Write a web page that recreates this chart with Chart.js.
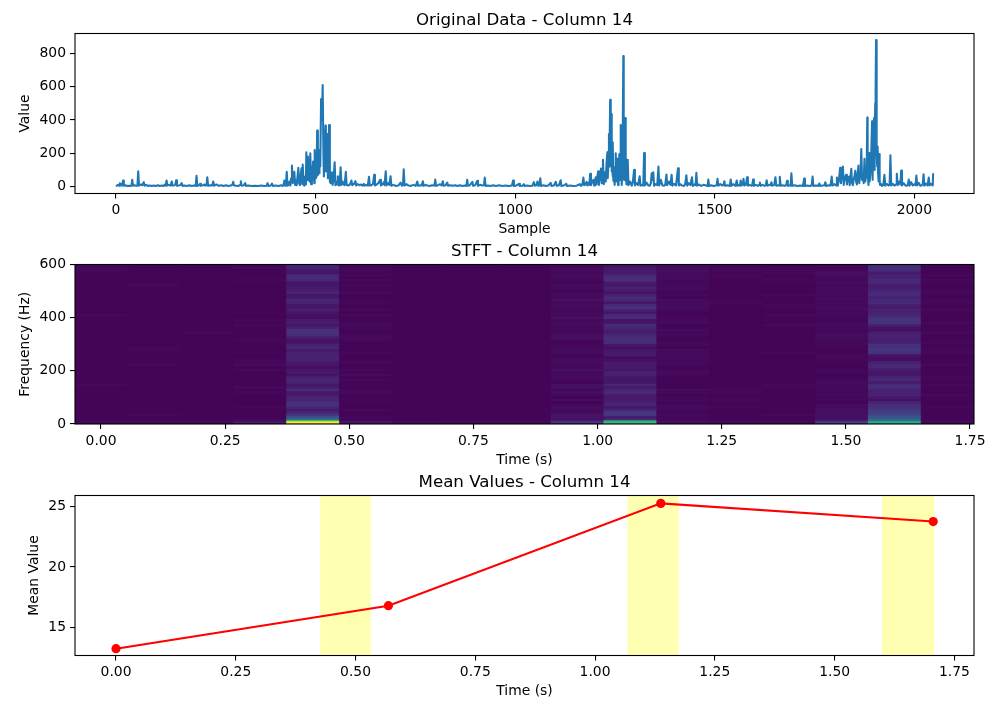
<!DOCTYPE html>
<html lang="en">
<head>
    <meta charset="UTF-8">
    <title>Column 14</title>
    <script src="https://cdn.jsdelivr.net/npm/chart.js"></script>
    <style>
        body { margin: 0; background: #fff; }
        canvas { position: absolute; left: 0; }
    </style>
</head>
<body>
    <canvas id="signalChart" width="1000" height="229" style="top:9px"></canvas>
    <canvas id="stftChart" width="1000" height="229" style="top:240px"></canvas>
    <canvas id="meanChart" width="1000" height="229" style="top:471px"></canvas>

    <script>
        // top panel: raw samples (peaks and the troughs between them)
        const sampleIdx = [
            0,3,6,8,10,12,14,16,18,20,24,28,32,36,39,41,43,47,51,54,
            56,58,62,66,70,72,76,80,85,90,95,100,105,110,115,119,123,125,127,129,
            133,137,140,142,147,149,151,153,158,162,165,167,172,178,184,190,196,200,202,204,
            208,211,213,218,222,224,227,229,231,236,241,244,246,252,258,264,270,276,282,288,
            292,294,296,302,307,311,313,315,320,324,326,332,340,348,356,364,372,378,380,382,
            388,391,393,400,408,414,418,420,422,424,426,428,430,433,435,437,439,441,443,445,
            447,449,451,453,455,457,459,461,463,465,467,468,470,472,474,476,477,479,481,483,
            485,487,489,491,493,494,496,497,498,500,501,503,504,506,507,509,510,512,514,516,
            518,520,521,523,525,526,528,529,531,533,534,536,538,541,543,545,548,550,552,554,
            556,558,560,563,565,568,570,573,576,578,582,586,590,592,596,600,602,606,610,614,
            618,621,623,627,631,634,636,640,644,647,649,653,658,662,664,668,671,673,676,678,
            682,685,688,690,695,701,708,713,716,719,721,723,728,733,739,745,751,755,757,762,
            766,769,771,776,780,786,792,798,800,802,807,812,816,819,821,826,830,832,838,844,
            850,856,862,868,874,878,880,882,887,893,895,900,905,907,912,918,922,924,926,932,
            938,945,952,960,968,976,984,992,995,997,1003,1010,1012,1018,1022,1024,1030,1037,1043,1047,
            1049,1053,1056,1058,1061,1063,1065,1071,1077,1083,1089,1091,1097,1102,1104,1110,1114,1116,1122,1128,
            1130,1138,1146,1154,1162,1165,1167,1169,1171,1173,1176,1179,1181,1184,1186,1188,1190,1193,1196,1198,
            1200,1202,1204,1206,1208,1210,1212,1214,1215,1217,1219,1220,1222,1224,1225,1227,1229,1231,1232,1234,
            1235,1236,1237,1238,1239,1240,1241,1242,1243,1244,1245,1246,1247,1248,1249,1250,1251,1252,1253,1254,
            1256,1257,1258,1259,1261,1262,1263,1264,1265,1266,1267,1268,1269,1270,1271,1272,1273,1274,1276,1277,
            1279,1282,1284,1288,1292,1295,1298,1300,1304,1308,1312,1314,1318,1321,1323,1325,1329,1333,1337,1340,
            1342,1344,1346,1348,1352,1356,1359,1361,1365,1369,1373,1376,1379,1381,1385,1389,1392,1394,1398,1403,
            1408,1410,1414,1418,1423,1426,1429,1431,1435,1439,1443,1445,1449,1452,1454,1456,1460,1466,1472,1478,
            1482,1484,1486,1491,1497,1503,1505,1507,1509,1514,1519,1522,1524,1526,1531,1536,1538,1540,1542,1547,
            1551,1553,1555,1557,1561,1563,1565,1567,1570,1572,1574,1578,1581,1583,1587,1591,1594,1596,1598,1603,
            1608,1611,1613,1615,1620,1625,1628,1630,1632,1637,1640,1642,1644,1649,1652,1654,1659,1661,1663,1665,
            1670,1675,1679,1681,1683,1688,1690,1692,1694,1700,1707,1714,1721,1724,1726,1732,1739,1743,1745,1747,
            1753,1759,1762,1764,1770,1775,1777,1779,1785,1790,1793,1795,1800,1804,1806,1808,1811,1814,1816,1819,
            1821,1823,1825,1827,1829,1831,1833,1836,1838,1840,1842,1844,1846,1848,1850,1852,1854,1856,1858,1860,
            1862,1864,1866,1867,1869,1871,1873,1875,1877,1879,1881,1882,1883,1885,1887,1888,1890,1892,1894,1895,
            1896,1897,1898,1899,1900,1901,1902,1903,1904,1905,1906,1907,1908,1909,1910,1911,1912,1913,1914,1916,
            1919,1922,1925,1927,1931,1935,1938,1940,1942,1946,1950,1954,1956,1958,1962,1965,1967,1969,1973,1977,
            1981,1984,1986,1988,1992,1996,2000,2003,2005,2007,2011,2015,2019,2021,2023,2025,2029,2033,2036,2038,
            2041,2044,2046,2047
        ];
        const sampleVal = [
            3,6,10,5,20,6,14,6,36,5,8,3,5,3,6,40,5,8,4,6,
            92,5,12,8,26,5,10,4,6,3,6,3,8,3,6,3,12,5,36,6,
            10,5,30,6,8,12,38,5,6,10,20,4,6,3,8,3,6,4,64,4,
            6,16,4,8,12,5,10,56,4,8,6,30,5,12,4,8,3,7,3,6,
            12,28,6,5,3,10,32,5,6,20,4,6,3,5,3,6,3,5,20,3,
            6,18,3,6,3,8,3,10,36,5,12,88,5,12,30,6,50,126,20,40,
            88,10,36,8,60,112,20,8,70,110,14,132,30,5,60,12,206,40,180,110,
            30,200,14,120,40,150,70,20,220,50,190,60,336,70,210,80,220,120,526,400,
            610,180,60,240,366,90,180,316,50,120,370,30,20,86,10,40,146,8,30,12,
            62,8,6,116,10,30,14,8,88,10,6,12,36,8,14,32,6,14,8,12,
            5,16,5,10,5,58,6,8,16,70,6,12,22,40,6,14,26,8,92,6,
            20,10,62,5,10,4,6,24,5,8,104,6,14,6,4,10,4,30,5,8,
            6,32,4,10,6,3,8,6,42,4,8,14,6,32,5,8,24,4,8,4,
            8,3,8,3,6,4,40,5,8,28,4,8,34,4,10,6,8,54,3,6,
            3,7,3,7,3,6,3,6,36,3,6,16,3,5,14,3,6,3,5,26,
            5,8,30,5,8,50,3,8,3,6,22,3,6,28,4,8,38,3,6,16,
            3,6,3,5,14,4,8,20,54,8,12,28,6,24,10,76,8,30,40,6,
            30,56,12,60,92,10,70,40,108,20,90,160,14,40,86,30,140,206,50,150,
            316,120,300,522,200,340,436,90,200,60,266,40,30,116,10,60,30,200,50,110,
            166,30,10,8,196,80,40,120,370,100,10,60,60,300,784,200,40,120,412,60,
            12,160,8,30,5,30,100,6,20,8,62,5,10,6,202,6,24,8,5,20,
            80,40,86,5,14,8,120,6,40,6,5,10,72,8,30,10,70,5,16,6,
            110,6,14,6,4,14,68,5,20,8,56,4,12,8,82,5,12,4,10,6,
            3,42,3,8,3,6,10,46,5,14,6,10,32,4,8,4,10,42,5,14,
            5,14,36,5,10,5,36,6,12,46,6,10,56,5,10,5,8,42,4,10,
            4,10,24,4,10,4,8,38,5,10,8,26,5,10,56,5,8,6,58,5,
            8,4,10,34,4,8,5,80,4,8,3,6,3,48,3,6,3,8,60,3,
            6,4,18,3,6,8,26,3,8,6,60,6,14,6,54,5,40,112,20,80,
            120,10,60,40,70,12,50,60,8,60,106,20,8,40,60,94,30,12,80,126,
            20,60,140,226,40,80,20,166,30,60,200,414,100,10,202,30,80,200,392,200,
            40,380,300,412,100,300,500,600,880,500,200,120,240,80,30,100,196,40,10,16,
            4,8,70,5,16,6,10,188,6,16,5,14,76,8,30,12,96,6,20,8,
            4,12,42,5,26,6,14,8,66,6,22,5,8,14,74,5,18,6,54,6,
            16,10,6,80
        ];
        const signalXTicks = [0, 500, 1000, 1500, 2000];
        const signalYTicks = [0, 200, 400, 600, 800];

        // middle panel: window centres, row top edges (Hz, high to low), and one list per window
        const stftTimes = [0, 0.107, 0.213, 0.32, 0.427, 0.533, 0.64, 0.747, 0.853, 0.96, 1.067, 1.173, 1.28, 1.387, 1.493, 1.6, 1.707];
        const stftRowTops = [
            600,590.6,581.3,571.9,562.5,553.1,543.8,534.4,525,515.6,506.3,496.9,487.5,478.1,468.8,459.4,
            450,440.6,431.3,421.9,412.5,403.1,393.8,384.4,375,365.6,356.3,346.9,337.5,328.1,318.8,309.4,
            300,290.6,281.3,271.9,262.5,253.1,243.8,234.4,225,215.6,206.3,196.9,187.5,178.1,168.8,159.4,
            150,140.6,131.3,121.9,112.5,103.1,93.8,84.4,75,65.6,56.3,46.9,37.5,28.1,18.8,14.1,9.4
        ];
        const stftCol0 = [2,2,2,1,1,1,1,1,1,1,1,1,1,1,1,1,1,1,1,1,2,1,1,1,1,1,1,1,1,1,1,1,1,1,1,1,1,1,1,1,1,1,1,1,1,1,1,1,2,1,1,1,1,1,1,1,1,1,1,1,1,1,1,1,2];
        const stftCol1 = [1,1,1,1,1,1,1,1,2,1,1,1,1,1,1,1,1,1,1,1,1,1,1,1,1,1,1,1,1,1,1,1,1,2,2,1,1,1,1,1,2,1,1,1,1,1,1,1,1,1,1,1,1,1,1,1,1,1,1,1,2,1,1,1,2];
        const stftCol2 = [1,1,1,1,1,1,1,1,1,1,1,1,1,1,1,1,1,1,1,1,1,1,1,1,1,1,1,2,1,1,1,1,1,1,1,1,1,1,1,1,1,1,1,1,1,1,1,1,1,1,1,1,1,1,1,1,1,1,1,1,1,1,1,1,2];
        const stftCol3 = [2,2,1,1,1,1,2,1,1,1,1,1,1,1,1,1,1,1,1,1,1,1,2,1,2,1,1,1,1,1,2,1,1,1,1,1,1,1,2,2,3,1,2,1,1,1,1,1,1,3,1,2,1,1,1,1,1,2,1,1,1,1,2,3,7];
        const stftCol5 = [2,2,2,1,2,1,2,1,2,1,1,2,1,1,1,2,1,1,2,1,2,1,1,2,3,2,1,1,2,3,2,1,1,1,1,2,1,1,1,2,1,1,2,1,3,1,2,1,1,1,2,3,1,1,2,1,1,1,2,1,1,2,1,2,6];
        const stftCol6 = [1,1,1,1,1,1,1,1,1,1,1,1,1,1,1,1,1,1,1,1,1,1,1,1,1,1,1,1,1,1,1,1,1,1,1,1,1,1,1,1,1,1,1,1,1,1,1,1,1,1,1,1,1,1,1,1,1,1,1,1,1,1,1,1,3];
        const stftCol7 = [1,1,1,1,1,1,1,1,1,1,1,1,1,1,1,1,1,1,1,1,1,1,1,1,1,1,1,1,1,1,1,1,1,1,1,1,1,1,1,1,1,1,1,1,1,1,1,1,1,1,1,1,1,1,1,1,1,1,1,1,1,1,1,1,2];
        const stftCol8 = [1,1,1,1,1,1,1,1,1,1,1,1,1,1,1,1,1,1,1,1,1,1,1,1,1,1,1,1,1,1,1,1,1,1,1,1,1,1,1,1,1,1,1,1,1,1,1,1,1,1,1,1,1,1,1,1,1,1,1,1,1,1,1,1,2];
        const stftCol9 = [2,2,3,2,3,3,2,1,3,2,1,2,3,2,4,2,3,2,2,3,2,4,2,3,3,2,2,2,3,4,2,1,2,2,3,3,1,2,3,3,2,2,4,2,3,3,2,1,4,4,2,4,2,1,3,1,2,4,2,3,5,5,4,7,15];
        const stftCol11 = [3,3,4,3,3,3,2,2,2,3,2,1,2,1,3,3,3,3,2,1,1,2,2,3,1,1,3,2,2,1,1,2,2,1,3,2,2,3,2,2,2,1,2,3,2,1,1,1,1,1,3,2,1,2,2,1,2,3,2,1,2,2,1,3,4];
        const stftCol12 = [2,1,2,1,2,1,1,1,1,1,1,1,1,1,1,2,1,1,1,1,1,1,1,1,1,1,1,1,1,1,1,1,1,1,1,1,1,1,1,1,1,1,1,1,1,1,1,1,1,1,2,2,1,1,2,1,1,2,1,1,1,1,1,2,3];
        const stftCol13 = [1,1,2,2,1,1,2,1,1,1,1,1,2,1,1,1,2,1,1,1,2,1,1,1,2,1,1,1,1,1,1,1,1,1,1,2,1,1,1,1,1,1,1,1,1,1,1,1,2,2,1,1,1,1,1,1,1,1,1,1,2,1,1,1,2];
        const stftCol14 = [2,1,2,4,3,2,2,3,2,2,3,2,2,3,2,3,2,3,3,2,2,2,1,2,3,2,2,2,3,3,2,2,2,1,1,1,2,2,2,1,1,1,2,2,1,1,2,3,2,2,2,2,3,2,2,1,3,3,4,4,4,4,5,7,18];
        const stftCol16 = [1,1,1,1,2,1,2,1,1,1,2,2,1,1,2,2,1,1,2,1,1,1,1,2,1,1,1,2,1,1,1,2,1,1,2,2,1,1,1,1,2,1,1,1,1,2,1,1,2,1,1,1,2,1,1,1,1,2,1,1,1,1,1,2,2];
        const stftCol4 = [9,9,7,6,12,12,11,6,6,7,8,10,6,7,11,9,6,6,8,6,4,4,7,8,6,9,14,14,13,7,5,6,9,11,7,9,9,10,9,7,6,4,6,7,5,9,11,10,6,8,12,6,7,10,10,13,14,10,7,10,15,26,38,65,100];
        const stftCol10 = [5,6,7,7,11,13,13,7,6,9,8,5,9,12,10,6,11,14,9,6,11,13,5,6,12,10,8,8,11,13,13,12,6,4,6,7,7,3,4,7,7,7,6,9,9,6,6,6,10,7,10,12,8,7,7,9,10,6,10,16,15,7,12,45,68];
        const stftCol15 = [12,13,12,7,9,9,12,11,8,8,9,12,12,9,11,12,8,7,9,9,10,14,15,14,9,5,4,8,9,9,8,9,14,14,15,14,6,4,4,9,11,11,7,6,6,10,11,7,12,13,9,9,9,7,4,10,13,14,17,18,22,28,32,36,62];
        const stftColumns = [stftCol0, stftCol1, stftCol2, stftCol3, stftCol4, stftCol5, stftCol6, stftCol7, stftCol8,
            stftCol9, stftCol10, stftCol11, stftCol12, stftCol13, stftCol14, stftCol15, stftCol16];
        const stftXTicks = [0, 0.25, 0.5, 0.75, 1, 1.25, 1.5, 1.75];
        const stftYTicks = [0, 200, 400, 600];

        // bottom panel
        const meanTimes = [0, 0.5686, 1.1372, 1.7058];
        const meanValues = [13.25, 16.8, 25.25, 23.75];
        const spanStarts = [0.426, 1.067, 1.599];
        const spanEnds = [0.532, 1.175, 1.708];
        const meanXTicks = [0, 0.25, 0.5, 0.75, 1, 1.25, 1.5, 1.75];
        const meanYTicks = [15, 20, 25];

        const viridis = ['#440154', '#482475', '#414487', '#355f8d', '#2a788e', '#21918c', '#22a884', '#44bf70', '#7ad151', '#bddf26', '#fde725'];

        Chart.defaults.font.family = '"DejaVu Sans"';
        Chart.defaults.font.size = 13.9;
        Chart.defaults.color = '#000';

        function viridisColor(pct) {
            const pos = Math.min(pct, 99.99) / 10;
            const i = Math.floor(pos);
            const t = pos - i;
            const a = parseInt(viridis[i].slice(1), 16);
            const b = parseInt(viridis[i + 1].slice(1), 16);
            const mix = shift => Math.round(((a >> shift) & 255) * (1 - t) + ((b >> shift) & 255) * t);
            return `rgb(${mix(16)}, ${mix(8)}, ${mix(0)})`;
        }

        // black box around the plot area, like the axes spines
        const framePlugin = {
            id: 'frame',
            afterDraw(chart) {
                const { ctx, chartArea: a } = chart;
                ctx.save();
                ctx.strokeStyle = '#000';
                ctx.lineWidth = 1.1;
                ctx.strokeRect(a.left, a.top, a.right - a.left, a.bottom - a.top);
                ctx.restore();
            }
        };

        function axis(title, min, max, tickValues, decimals, isX, titlePad, xHeight) {
            return {
                type: 'linear',
                position: isX ? 'bottom' : 'left',
                offset: false,
                min: min,
                max: max,
                afterBuildTicks: s => { s.ticks = tickValues.map(v => ({ value: v })); },
                afterFit: s => { if (isX) s.height = xHeight; else s.width = 75; },
                title: { display: true, text: title, padding: titlePad },
                border: { display: false },
                grid: { offset: false, drawOnChartArea: false, drawTicks: true, tickLength: 5, color: '#000', lineWidth: 1.1 },
                ticks: {
                    padding: 4,
                    autoSkip: false,
                    maxRotation: 0,
                    callback: v => Number(v).toFixed(decimals)
                }
            };
        }

        function baseOptions(titleText, scales) {
            return {
                responsive: false,
                animation: false,
                layout: { autoPadding: false, padding: { right: 26 } },
                plugins: {
                    legend: { display: false },
                    tooltip: { enabled: false },
                    title: {
                        display: true,
                        text: titleText,
                        fullSize: false,
                        font: { size: 16.67, weight: 'normal' },
                        padding: { top: 2, bottom: 2.5 }
                    }
                },
                scales: scales
            };
        }

        new Chart(document.getElementById('signalChart'), {
            type: 'line',
            data: {
                datasets: [{
                    data: sampleIdx.map((s, i) => ({ x: s, y: sampleVal[i] })),
                    borderColor: '#1f77b4',
                    borderWidth: 2.08,
                    borderJoinStyle: 'round',
                    pointRadius: 0,
                    tension: 0
                }]
            },
            options: baseOptions('Original Data - Column 14', {
                x: axis('Sample', -102.35, 2149.35, signalXTicks, 0, true, { top: 0, bottom: 0 }, 44.5),
                y: axis('Value', -42, 920, signalYTicks, 0, false, { top: 17, bottom: 0 })
            }),
            plugins: [framePlugin]
        });

        // each row is a bar from 0 up to its top edge; the lowest row is listed first so it paints last
        const stftDatasets = [];
        for (let r = stftRowTops.length - 1; r >= 0; r--) {
            stftDatasets.push({
                data: stftColumns.map(() => stftRowTops[r]),
                backgroundColor: stftColumns.map(col => viridisColor(col[r])),
                borderWidth: 0,
                grouped: false,
                barPercentage: 1,
                categoryPercentage: 1,
                xAxisID: 'cols',
                yAxisID: 'y'
            });
        }

        new Chart(document.getElementById('stftChart'), {
            type: 'bar',
            data: { labels: stftTimes, datasets: stftDatasets },
            options: baseOptions('STFT - Column 14', {
                cols: { type: 'category', display: false, offset: true, grid: { display: false } },
                x: axis('Time (s)', -0.0524, 1.758, stftXTicks, 2, true, { top: 0, bottom: 0 }, 45),
                y: axis('Frequency (Hz)', 0, 600, stftYTicks, 0, false, { top: 17, bottom: 0 })
            }),
            plugins: [framePlugin]
        });

        const meanYMax = 25.9;
        const spanDatasets = spanStarts.map((start, i) => ({
            data: [{ x: start, y: meanYMax }, { x: spanEnds[i], y: meanYMax }],
            backgroundColor: 'rgba(255, 255, 0, 0.3)',
            borderWidth: 0,
            pointRadius: 0,
            fill: 'start',
            order: 2
        }));

        new Chart(document.getElementById('meanChart'), {
            type: 'line',
            data: {
                datasets: [{
                    data: meanTimes.map((t, i) => ({ x: t, y: meanValues[i] })),
                    borderColor: '#ff0000',
                    backgroundColor: '#ff0000',
                    borderWidth: 2.08,
                    pointRadius: 4.6,
                    pointBorderWidth: 0,
                    tension: 0,
                    fill: false,
                    order: 1
                }].concat(spanDatasets)
            },
            options: baseOptions('Mean Values - Column 14', {
                x: axis('Time (s)', -0.0856, 1.791, meanXTicks, 2, true, { top: 0, bottom: 0 }, 44.5),
                y: axis('Mean Value', 12.69, meanYMax, meanYTicks, 0, false, { top: 26, bottom: 0 })
            }),
            plugins: [framePlugin]
        });
    </script>
</body>
</html>
